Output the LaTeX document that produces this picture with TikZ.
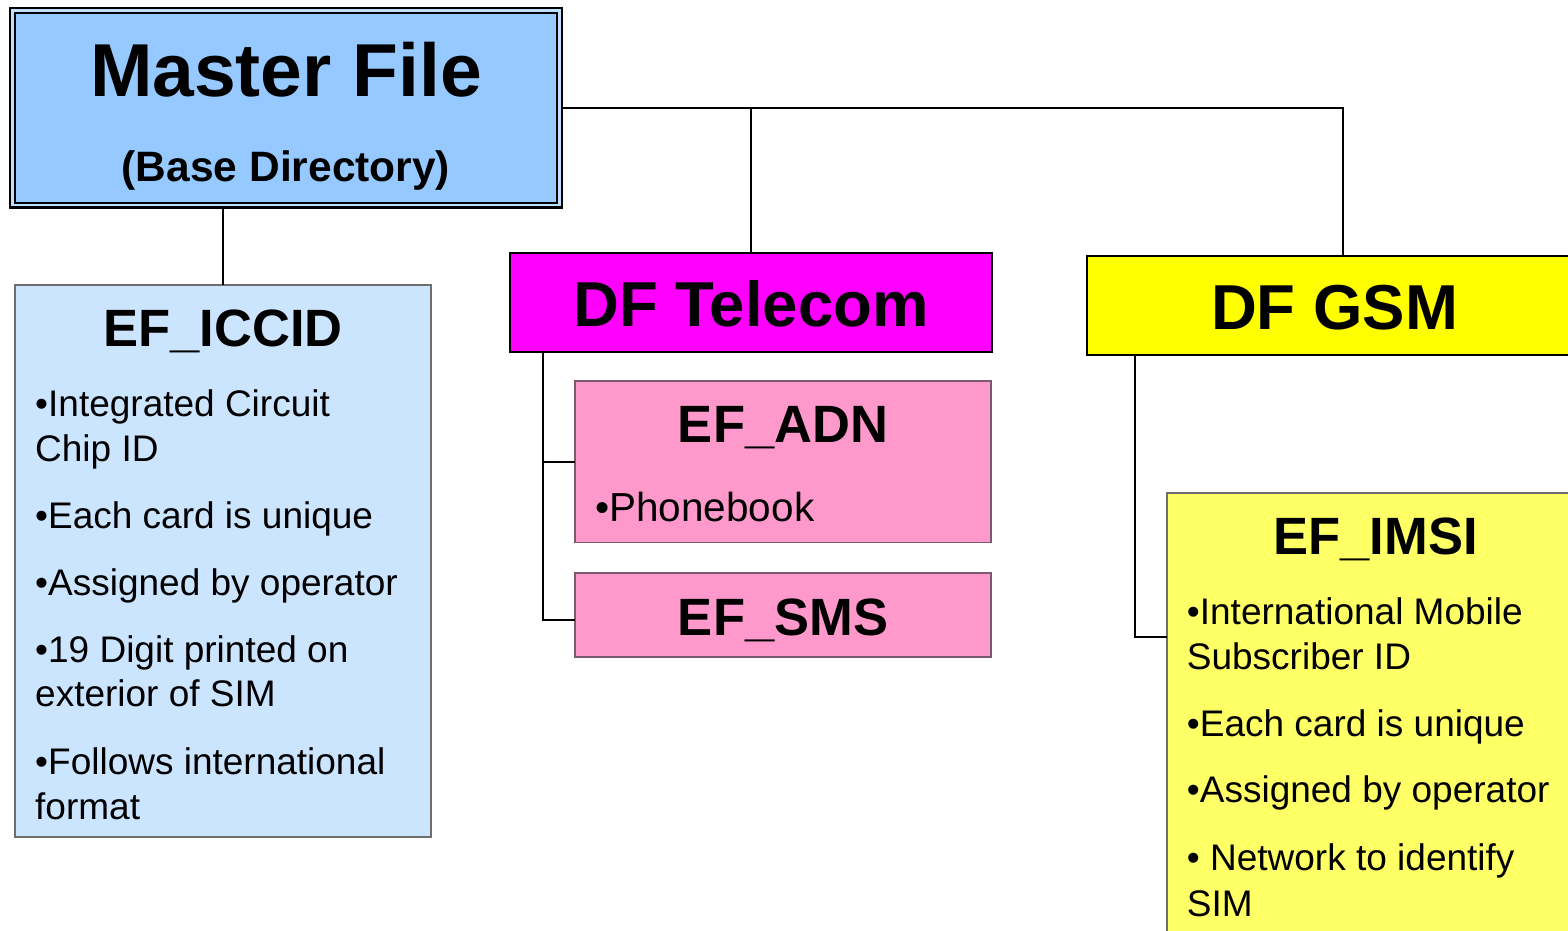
\documentclass[tikz,border=0pt]{standalone}
\usepackage{fontspec}
\setmainfont{Liberation Sans}

\definecolor{mfblue}{HTML}{96C9FF}
\definecolor{mfgap}{HTML}{BFDFFF}
\definecolor{iccidblue}{HTML}{CCE5FF}
\definecolor{telmag}{HTML}{FF00FF}
\definecolor{efpink}{HTML}{FF99CC}
\definecolor{gsmyel}{HTML}{FFFF00}
\definecolor{imsiyel}{HTML}{FFFF66}
\definecolor{efedge}{HTML}{6E6E6E}
\definecolor{pinkedge}{HTML}{7A5A6E}

\newcommand{\fsz}[1]{\fontsize{#1}{#1}\selectfont}

\begin{document}
\begin{tikzpicture}[x=1pt,y=-1pt,
  filebox/.style={inner sep=0pt, outer sep=0pt, anchor=north west},
  dfbox/.style={filebox, draw=black, line width=2pt},
  efbox/.style={filebox, draw=efedge, line width=1.3pt},
  bigtitle/.style={anchor=base, inner sep=0pt, font=\bfseries\fsz{63.5}},
  eftitle/.style={anchor=base, inner sep=0pt, font=\bfseries\fsz{52.5}},
  bodyline/.style={anchor=base west, inner sep=0pt, font=\fsz{37}},
  link/.style={draw=black, line width=2pt}
]
\useasboundingbox (0,0) rectangle (1568,930);

% Master file with its double frame
\node[filebox, draw=black, line width=2.5pt, fill=mfgap,
      minimum width=552pt, minimum height=199.5pt] (mf) at (10,8) {};
\draw[fill=mfblue, line width=2pt]
  ([shift={(5,5)}]mf.north west) rectangle ([shift={(-5,-5)}]mf.south east);
\node[anchor=base, inner sep=0pt, font=\bfseries\fsz{75}] (mft) at (286,96.7) {Master File};
\node[anchor=base, inner sep=0pt, font=\bfseries\fsz{42.5}] (mfs) at (286,181.7) {(Base Directory)};

% EF_ICCID under the master file
\node[efbox, fill=iccidblue, minimum width=416pt, minimum height=552pt] (iccid) at (15,285) {};
\node[eftitle] (iccidt) at (223,346) {EF\_ICCID};
\node[bodyline] (ic1) at (35,416.7) {•Integrated Circuit};
\node[bodyline] (ic2) at (35,461.7) {Chip ID};
\node[bodyline] (ic3) at (35,528.5) {•Each card is unique};
\node[bodyline] (ic4) at (35,595.5) {•Assigned by operator};
\node[bodyline] (ic5) at (35,662.7) {•19 Digit printed on};
\node[bodyline] (ic6) at (35,706.7) {exterior of SIM};
\node[bodyline] (ic7) at (35,774.0) {•Follows international};
\node[bodyline] (ic8) at (35,819.3) {format};

% DF Telecom and its elementary files
\node[dfbox, fill=telmag, minimum width=481.5pt, minimum height=99pt] (tel) at (510,252.5) {};
\node[bigtitle] (telt) at (751,326) {DF Telecom};

\node[efbox, draw=pinkedge, fill=efpink, minimum width=416pt, minimum height=161.5pt] (adn) at (575,381) {};
\node[eftitle] (adnt) at (783,442) {EF\_ADN};
\node[bodyline, font=\fsz{40.5}] (adn1) at (595,521.7) {•Phonebook};

\node[efbox, draw=pinkedge, fill=efpink, minimum width=416pt, minimum height=84pt] (sms) at (575,573) {};
\node[eftitle] (smst) at (783,635) {EF\_SMS};

% DF GSM and EF_IMSI
\node[dfbox, fill=gsmyel, minimum width=495pt, minimum height=99pt] (gsm) at (1087,255.5) {};
\node[bigtitle] (gsmt) at (1334.5,329.3) {DF GSM};

\node[efbox, fill=imsiyel, minimum width=417pt, minimum height=470pt] (imsi) at (1167,493) {};
\node[eftitle] (imsit) at (1375.5,554.3) {EF\_IMSI};
\node[bodyline] (im1) at (1186.7,624.3) {•International Mobile};
\node[bodyline] (im2) at (1186.7,669.3) {Subscriber ID};
\node[bodyline] (im3) at (1186.7,736.0) {•Each card is unique};
\node[bodyline] (im4) at (1186.7,802.7) {•Assigned by operator};
\node[bodyline] (im5) at (1186.7,870.0) {• Network to identify};
\node[bodyline] (im6) at (1186.7,916.0) {SIM};

% Tree connectors
\draw[link] (mf.east) -| ([xshift=8.5pt]gsm.north);
\draw[link] (tel.north) -- (tel.north |- mf.east);
\draw[link] (iccid.north) -- (iccid.north |- mf.south);

\coordinate (tb) at ([xshift=32.5pt]tel.south west);
\draw[link] (tb) |- ([yshift=-5pt]sms.west);
\draw[link] (adn.west) -- (adn.west -| tb);

\coordinate (gb) at ([xshift=48pt]gsm.south west);
\draw[link] (gb) |- ([yshift=-144pt]imsi.north west);
\end{tikzpicture}
\end{document}
